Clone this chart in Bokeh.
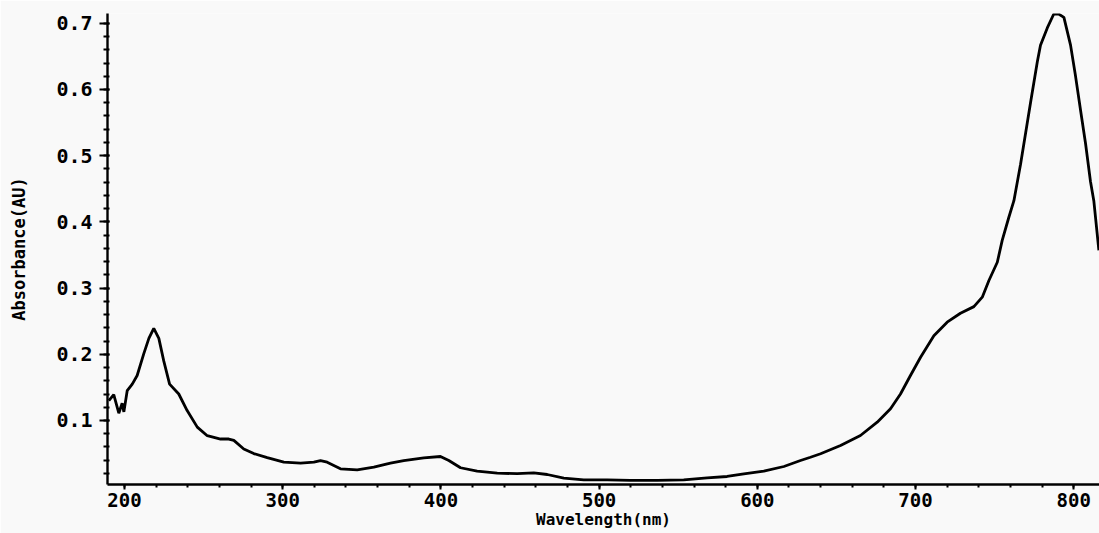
from bokeh.plotting import figure
from bokeh.models import FixedTicker, Range1d
from bokeh.embed import file_html
from bokeh.resources import INLINE

wavelength = [190.1, 193.2, 196.4, 198.5, 199.6, 201.7, 204.9, 208.0, 212.2, 215.4,
              218.5, 221.7, 224.8, 228.5, 234.3, 239.6, 246.0, 252.3, 260.7, 265.9,
              269.1, 275.4, 281.7, 290.2, 300.7, 311.3, 319.7, 323.9, 328.1, 336.5,
              347.1, 357.6, 368.1, 376.5, 389.2, 399.7, 405.0, 412.4, 422.9, 435.6,
              448.2, 458.7, 467.2, 477.7, 490.3, 505.1, 519.8, 536.7, 553.5, 568.3,
              580.9, 591.5, 604.1, 616.8, 627.3, 633.6, 640.0, 652.6, 665.2, 675.8,
              684.2, 690.5, 696.8, 703.2, 711.6, 720.0, 728.4, 736.9, 742.2, 746.4,
              751.7, 754.8, 759.0, 762.2, 766.4, 772.7, 777.0, 779.0, 783.3, 787.4,
              790.5, 793.8, 798.0, 801.1, 804.3, 807.5, 810.6, 812.7, 815.9]
absorbance = [0.130, 0.139, 0.111, 0.126, 0.113, 0.145, 0.155, 0.168, 0.201, 0.224,
              0.239, 0.224, 0.190, 0.155, 0.140, 0.115, 0.090, 0.077, 0.072, 0.072,
              0.070, 0.057, 0.050, 0.044, 0.037, 0.0355, 0.037, 0.0395, 0.037, 0.027,
              0.0255, 0.0295, 0.0355, 0.0395, 0.0436, 0.0456, 0.0395, 0.0286, 0.0236, 0.0205,
              0.0196, 0.021, 0.0184, 0.0128, 0.0104, 0.0104, 0.0094, 0.0094, 0.0104, 0.0134,
              0.0154, 0.0195, 0.0236, 0.0305, 0.0395, 0.0445, 0.0497, 0.0622, 0.0773, 0.0975,
              0.1177, 0.140, 0.168, 0.1956, 0.228, 0.2485, 0.262, 0.272, 0.2863, 0.3115,
              0.339, 0.372, 0.407, 0.432, 0.487, 0.580, 0.642, 0.667, 0.693, 0.714,
              0.714, 0.709, 0.667, 0.621, 0.569, 0.518, 0.461, 0.432, 0.357]

x_major = [200, 300, 400, 500, 600, 700, 800]
x_minor = list(range(200, 801, 20))
y_major = [0.1, 0.2, 0.3, 0.4, 0.5, 0.6, 0.7]
y_minor = [round(0.02 * i, 2) for i in range(1, 36)]

FONT = "DejaVu Sans Mono"
BG = "#f9f9f9"

p = figure(width=1099, height=533, output_backend="svg", toolbar_location=None,
           x_range=Range1d(189.25, 816.3), y_range=Range1d(0.0033, 0.7148),
           min_border_left=107, min_border_right=0, min_border_top=13, min_border_bottom=49,
           background_fill_color=BG, border_fill_color=BG)
p.outline_line_color = None
p.grid.visible = False

p.line(wavelength, absorbance, line_color="black", line_width=2.8)

xa = p.xaxis[0]
xa.ticker = FixedTicker(ticks=x_major, minor_ticks=x_minor)
xa.axis_line_width = 2.4
xa.axis_line_color = "black"
xa.major_tick_out = 5
xa.major_tick_in = 0
xa.minor_tick_out = 3
xa.minor_tick_in = 0
xa.major_tick_line_width = 2
xa.minor_tick_line_width = 2
xa.major_label_standoff = 3
xa.major_label_text_font = FONT
xa.major_label_text_font_style = "bold"
xa.major_label_text_font_size = "19px"
xa.major_label_text_color = "black"
xa.axis_label = "Wavelength(nm)"
xa.axis_label_text_font = FONT
xa.axis_label_text_font_style = "bold"
xa.axis_label_text_font_size = "16px"
xa.axis_label_text_color = "black"
xa.axis_label_standoff = 0

ya = p.yaxis[0]
ya.ticker = FixedTicker(ticks=y_major, minor_ticks=y_minor)
ya.axis_line_width = 2.4
ya.axis_line_color = "black"
ya.major_tick_out = 8
ya.major_tick_in = 2
ya.minor_tick_out = 4
ya.minor_tick_in = 2
ya.major_tick_line_width = 2
ya.minor_tick_line_width = 2
ya.major_label_standoff = 7
ya.major_label_text_font = FONT
ya.major_label_text_font_style = "bold"
ya.major_label_text_font_size = "20px"
ya.major_label_text_color = "black"
ya.axis_label = "Absorbance(AU)"
ya.axis_label_text_font = FONT
ya.axis_label_text_font_style = "bold"
ya.axis_label_text_font_size = "17px"
ya.axis_label_text_color = "black"
ya.axis_label_standoff = 24

open("out.html", "w").write(file_html(p, INLINE))
